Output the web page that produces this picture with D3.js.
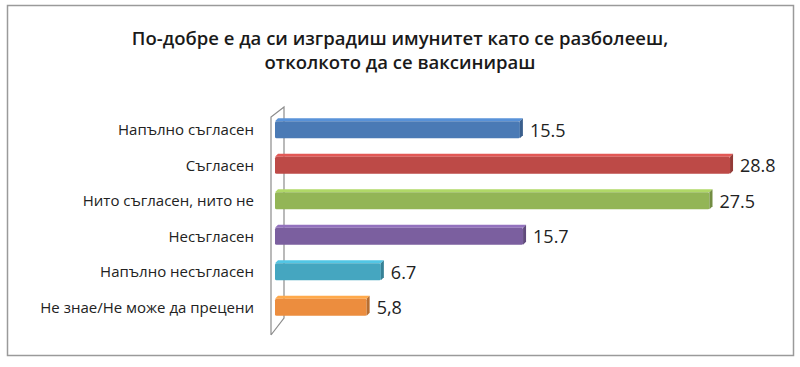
<!DOCTYPE html>
<html>
<head>
<meta charset="utf-8">
<script src="https://cdn.jsdelivr.net/npm/d3@7"></script>
<style>
  body { margin: 0; background: #fff; }
  svg { display: block; font-family: "Open Sans", "Noto Sans", sans-serif; }
</style>
</head>
<body>
<div id="chart"></div>
<script>
// Chart data
const categories = ["Напълно съгласен", "Съгласен", "Нито съгласен, нито не", "Несъгласен", "Напълно несъгласен", "Не знае/Не може да прецени"];
const values = [15.5, 28.8, 27.5, 15.7, 6.7, 5.8];
const valueLabels = ["15.5", "28.8", "27.5", "15.7", "6.7", "5,8"];
const titleLines = ["По-добре е да си изградиш имунитет като се разболееш,", "отколкото да се ваксинираш"];
const colors = ["#4a7ab5", "#bd4a47", "#93b556", "#7b5f9f", "#45a6c0", "#ec8d3e"];

const data = categories.map((c, i) => ({ cat: c, value: values[i], label: valueLabels[i], color: colors[i] }));

const width = 800, height = 367;

const svg = d3.select("#chart").append("svg")
    .attr("width", width)
    .attr("height", height);

// outer frame
svg.append("rect")
    .attr("x", 7.5)
    .attr("y", 5.5)
    .attr("width", 786)
    .attr("height", 350)
    .attr("fill", "#fff")
    .attr("stroke", "#9a9a9a")
    .attr("stroke-width", 1.5);

// title
svg.append("g").selectAll("text")
    .data(titleLines)
    .enter().append("text")
    .attr("x", 400)
    .attr("y", (d, i) => 45 + i * 24)
    .attr("text-anchor", "middle")
    .style("font-size", "18.5px")
    .style("font-weight", "600")
    .style("fill", "#1a1a1a")
    .text(d => d);

// scales
const x = d3.scaleLinear()
    .domain([0, 30])
    .range([275, 749]);

const y = d3.scaleBand()
    .domain(categories)
    .range([112, 325])
    .paddingInner(0.52)
    .paddingOuter(0.26);

const depth = 3;   // 3d offset of the bars
const wallDx = 13, wallDy = 10;

// back wall of the 3d axis
const wallLeft = 271, wallTop = 117, wallBottom = 335;
svg.append("path")
    .attr("d", `M${wallLeft},${wallBottom} L${wallLeft},${wallTop} L${wallLeft + wallDx},${wallTop - wallDy} L${wallLeft + wallDx},${wallBottom - wallDy - 7} L${wallLeft},${wallBottom}`)
    .attr("fill", "none")
    .attr("stroke", "#8c8c8c")
    .attr("stroke-width", 1.2);

// category labels
svg.append("g").selectAll("text")
    .data(data)
    .enter().append("text")
    .attr("x", 254)
    .attr("y", d => y(d.cat) + y.bandwidth() / 2)
    .attr("dy", "0.35em")
    .attr("text-anchor", "end")
    .style("font-size", "15px")
    .style("fill", "#222")
    .text(d => d.cat);

// bars
const bars = svg.append("g").selectAll("g")
    .data(data)
    .enter().append("g");

bars.append("path")   // top face
    .attr("d", d => {
        const x0 = x(0), x1 = x(d.value), yt = y(d.cat);
        return `M${x0},${yt} L${x0 + depth},${yt - depth} L${x1 + depth},${yt - depth} L${x1},${yt} Z`;
    })
    .attr("fill", d => d3.color(d.color).brighter(0.5));

bars.append("rect")   // front face
    .attr("x", x(0))
    .attr("y", d => y(d.cat))
    .attr("width", d => x(d.value) - x(0))
    .attr("height", y.bandwidth())
    .attr("rx", 1.5)
    .attr("fill", d => d.color);

bars.append("path")   // end face
    .attr("d", d => {
        const x1 = x(d.value), yt = y(d.cat), yb = yt + y.bandwidth();
        return `M${x1},${yt} L${x1 + depth},${yt - depth} L${x1 + depth},${yb - depth} L${x1},${yb} Z`;
    })
    .attr("fill", d => d3.color(d.color).darker(0.7));

// value labels
bars.append("text")
    .attr("x", d => x(d.value) + 10)
    .attr("y", d => y(d.cat) + y.bandwidth() / 2)
    .attr("dy", "0.38em")
    .style("font-size", "18px")
    .style("fill", "#222")
    .text(d => d.label);
</script>
</body>
</html>
